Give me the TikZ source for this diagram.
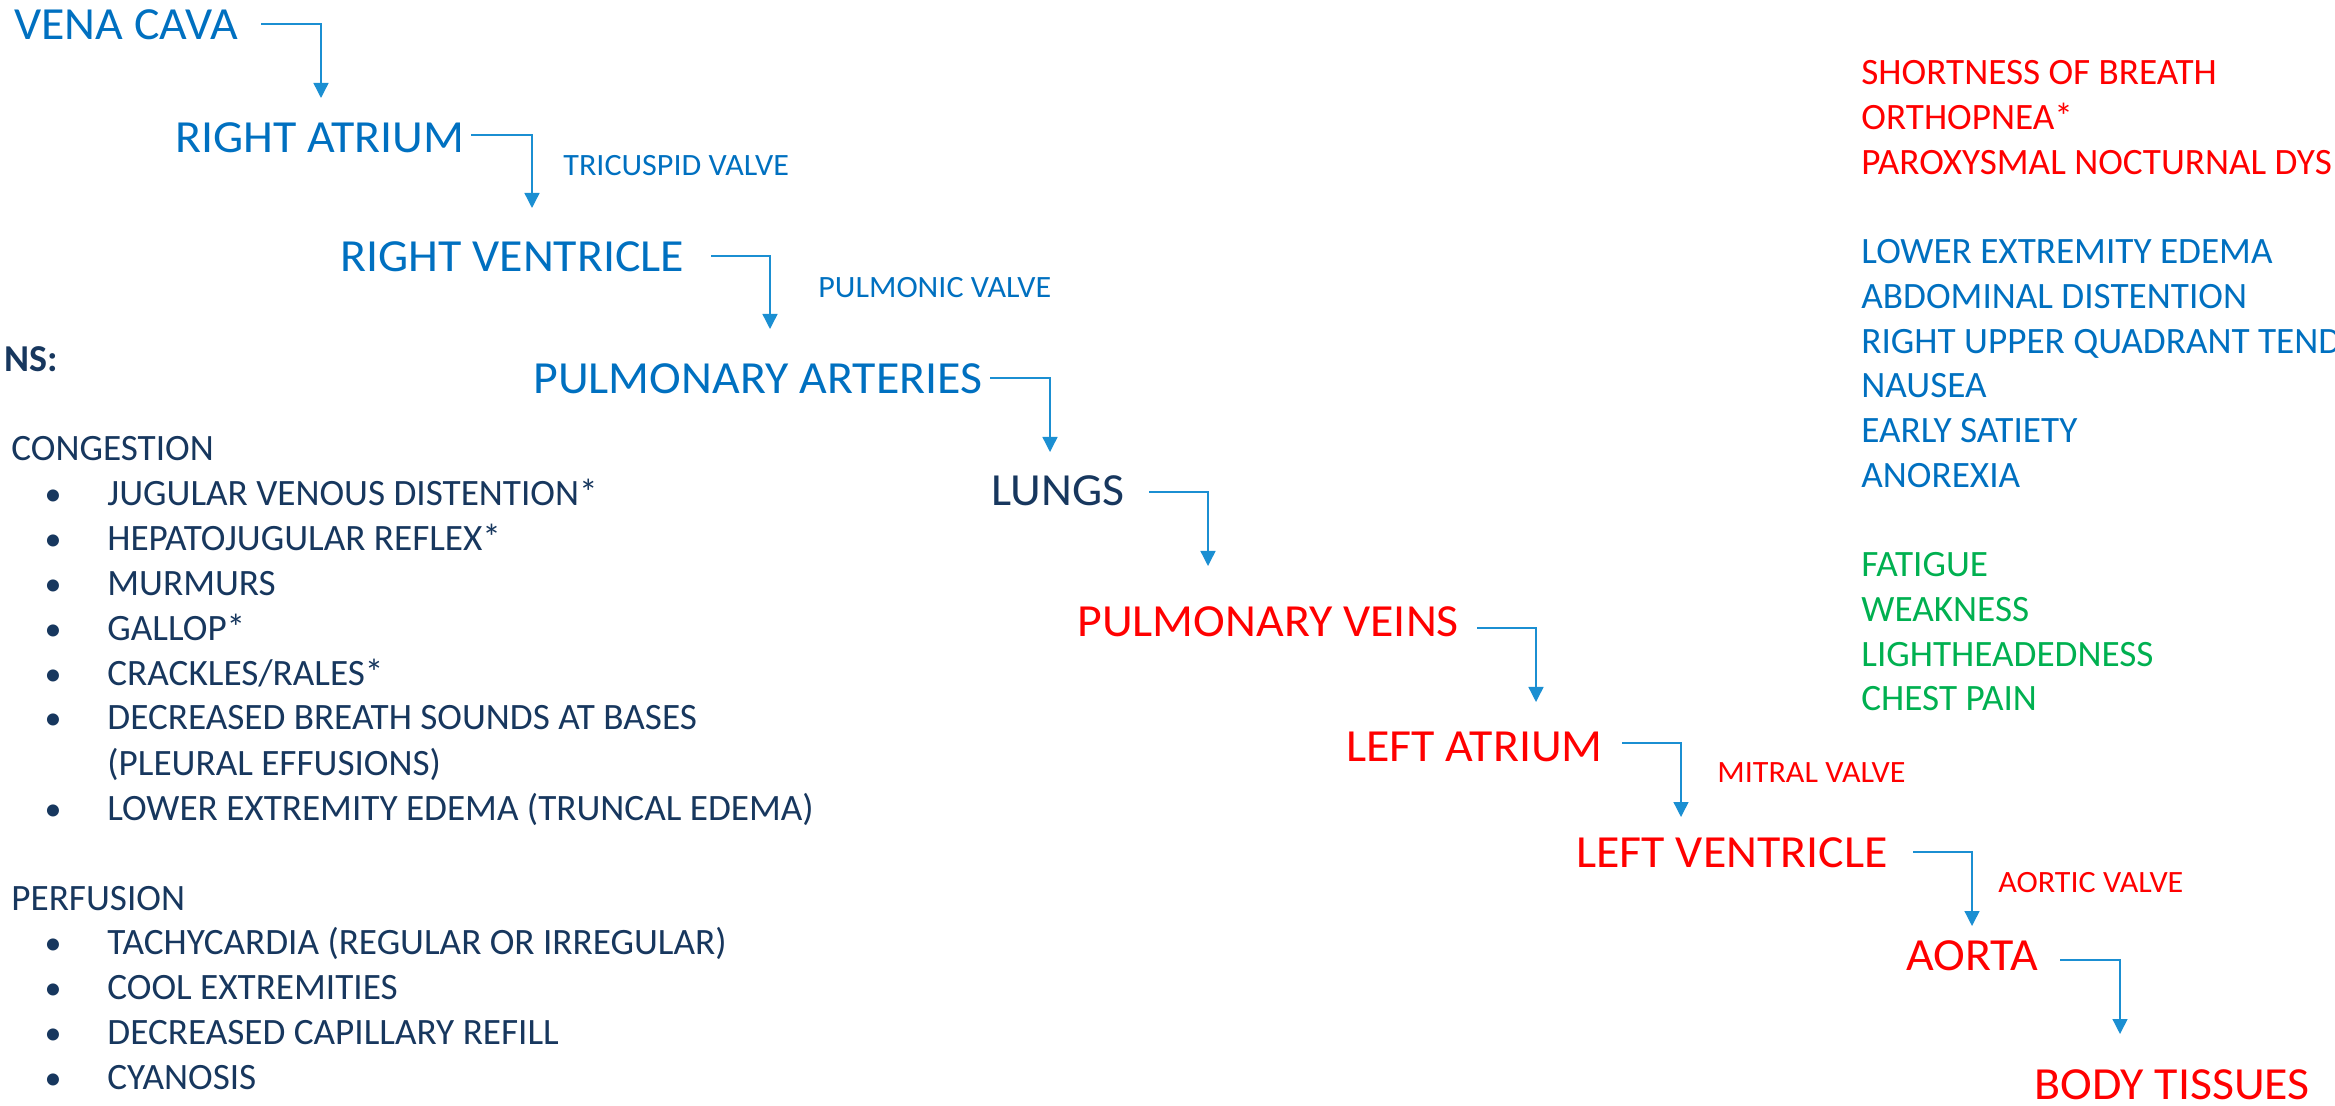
\documentclass[tikz,border=0pt]{standalone}
\usepackage{fontspec}
\setmainfont{Carlito}
\newfontfamily\organfont{Carlito}[FakeStretch=1.04]
\newfontfamily\valvefont{Carlito}[FakeStretch=1.035]
\usetikzlibrary{arrows.meta}
\definecolor{flowblue}{RGB}{0,112,192}
\definecolor{navy}{RGB}{23,55,94}
\definecolor{symred}{RGB}{255,0,0}
\definecolor{symgreen}{RGB}{0,176,80}
\definecolor{arrowblue}{RGB}{27,143,210}
\tikzset{
  organ/.style={anchor=base west, inner sep=0pt, font=\organfont\fontsize{23}{27}\selectfont},
  valve/.style={anchor=base west, inner sep=0pt, font=\valvefont\fontsize{15.5}{18}\selectfont},
  item/.style={anchor=base west, inner sep=0pt, font=\fontsize{18.6}{22}\selectfont},
  bul/.style={anchor=base, inner sep=0pt, font=\fontsize{17}{22}\selectfont, text=navy},
  flow/.style={draw=arrowblue, line width=0.7pt, -{Triangle[length=7.5pt,width=7.5pt]}},
}
\begin{document}
\begin{tikzpicture}[x=0.5pt,y=-0.5pt]
\clip (0,0) rectangle (2335,1106);

% circulation chain
\node[organ, text=flowblue] (vc)    at (14,40)    {VENA CAVA};
\node[organ, text=flowblue] (ra)    at (175,153)  {RIGHT ATRIUM};
\node[organ, text=flowblue] (rv)    at (340,272)  {RIGHT VENTRICLE};
\node[organ, text=flowblue] (pa)    at (533,394)  {PULMONARY ARTERIES};
\node[organ, text=navy]     (lungs) at (991,506)  {LUNGS};
\node[organ, text=symred]   (pv)    at (1077,637) {PULMONARY VEINS};
\node[organ, text=symred]   (la)    at (1346,762) {LEFT ATRIUM};
\node[organ, text=symred]   (lv)    at (1576,867) {LEFT VENTRICLE};
\node[organ, text=symred]   (ao)    at (1906,970) {AORTA};
\node[organ, text=symred]   (bt)    at (2034,1099){BODY TISSUES};

% valves
\node[valve, text=flowblue] (tv) at (563,176)  {TRICUSPID VALVE};
\node[valve, text=flowblue] (pu) at (818,298)  {PULMONIC VALVE};
\node[valve, text=symred]   (mv) at (1717,782) {MITRAL VALVE};
\node[valve, text=symred]   (av) at (1998,892) {AORTIC VALVE};

% elbow connectors
\coordinate (s1) at (261,24);   \coordinate (e1) at (321,98);
\coordinate (s2) at (471,135);  \coordinate (e2) at (532,208);
\coordinate (s3) at (711,256);  \coordinate (e3) at (770,329);
\coordinate (s4) at (990,378);  \coordinate (e4) at (1050,452);
\coordinate (s5) at (1149,492); \coordinate (e5) at (1208,566);
\coordinate (s6) at (1477,628); \coordinate (e6) at (1536,702);
\coordinate (s7) at (1622,743); \coordinate (e7) at (1681,817);
\coordinate (s8) at (1913,852); \coordinate (e8) at (1972,926);
\coordinate (s9) at (2060,960); \coordinate (e9) at (2120,1034);
\foreach \i in {1,...,9} \draw[flow] (s\i) -| (e\i);

% signs heading
\node[anchor=base west, inner sep=0pt, text=navy, font=\fontsize{19}{22}\selectfont\bfseries] (signs) at (4,372) {NS:};

% congestion
\node[item, text=navy] (cong) at (11,461) {CONGESTION};
\foreach \t [count=\k] in {JUGULAR VENOUS DISTENTION*, HEPATOJUGULAR REFLEX*, MURMURS, GALLOP*, CRACKLES/RALES*, DECREASED BREATH SOUNDS AT BASES}{
  \node[bul] (cb\k) at (53,{461+44.8*\k}) {•};
  \node[item, text=navy] (ct\k) at (107,{461+44.8*\k}) {\t};
}
\node[item, text=navy] (ct7) at (107,775) {(PLEURAL EFFUSIONS)};
\node[bul] (cb8) at (53,820) {•};
\node[item, text=navy] (ct8) at (107,820) {LOWER EXTREMITY EDEMA (TRUNCAL EDEMA)};

% perfusion
\node[item, text=navy] (perf) at (11,910) {PERFUSION};
\foreach \t [count=\k] in {TACHYCARDIA (REGULAR OR IRREGULAR), COOL EXTREMITIES, DECREASED CAPILLARY REFILL, CYANOSIS}{
  \node[bul] (pb\k) at (53,{910+44.8*\k}) {•};
  \node[item, text=navy] (pt\k) at (107,{910+44.8*\k}) {\t};
}

% symptoms
\foreach \t [count=\k] in {SHORTNESS OF BREATH, ORTHOPNEA*, PAROXYSMAL NOCTURNAL DYS}
  \node[item, text=symred] (sr\k) at (1861,{85+44.7*(\k-1)}) {\t};
\foreach \t [count=\k] in {LOWER EXTREMITY EDEMA, ABDOMINAL DISTENTION, RIGHT UPPER QUADRANT TEND, NAUSEA, EARLY SATIETY, ANOREXIA}
  \node[item, text=flowblue] (sb\k) at (1861,{263.8+44.7*(\k-1)}) {\t};
\foreach \t [count=\k] in {FATIGUE, WEAKNESS, LIGHTHEADEDNESS, CHEST PAIN}
  \node[item, text=symgreen] (sg\k) at (1861,{576.7+44.7*(\k-1)}) {\t};
\end{tikzpicture}
\end{document}
